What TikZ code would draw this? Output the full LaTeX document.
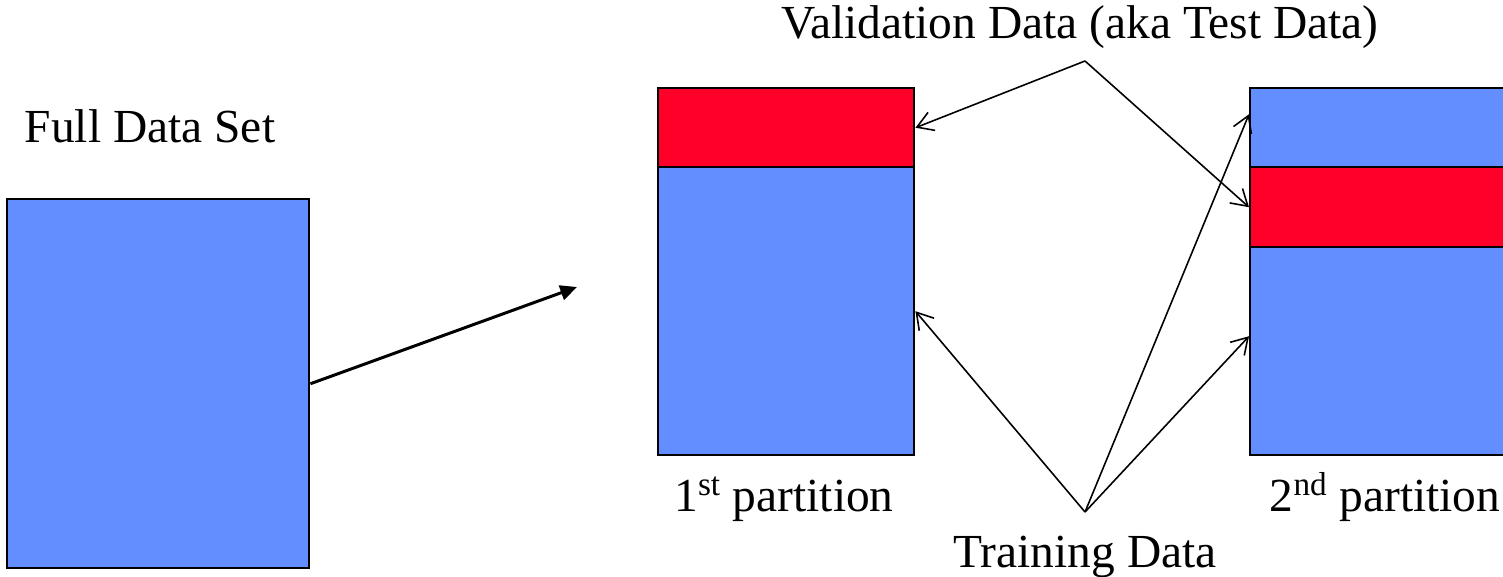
\documentclass[tikz,border=0pt]{standalone}
\usepackage{fontspec}
\setmainfont{Liberation Serif}
\usetikzlibrary{arrows.meta}
\definecolor{setblue}{RGB}{98,142,255}
\definecolor{setred}{RGB}{255,0,41}

\begin{document}
\begin{tikzpicture}[x=0.02cm, y=-0.02cm,
    block/.style={draw, line width=1.4pt, inner sep=0pt, anchor=north west},
    caption/.style={font=\fontsize{27}{32}\selectfont, inner sep=0pt, anchor=base},
    pointer/.style={line width=0.9pt, -{Straight Barb[length=9pt, width=11pt]}}]
    \def\u{0.02cm} % one pixel of the reference
    \def\boxW{256} % width of a partition
    \useasboundingbox (0,0) rectangle (1503,577);

    % full data set
    \node[block, fill=setblue, minimum width=302*\u, minimum height=369*\u] (full) at (6,198) {};
    \node[caption] (fulltxt) at (150,143) {Full Data Set};
    \coordinate (split) at (577,287);
    \draw[line width=1.7pt, -{Triangle[length=9.5pt, width=8.5pt]}] (full.east) -- (split);

    % 1st partition
    \node[block, fill=setred, minimum width=\boxW*\u, minimum height=79*\u] (red1) at (657,87) {};
    \node[block, fill=setblue, minimum width=\boxW*\u, minimum height=288*\u] (blue1) at (657,166) {};
    \node[caption] (part1) at (784,511) {1\textsuperscript{st} partition};

    % 2nd partition
    \foreach \name/\col/\top/\h in {top2/setblue/87/79, red2/setred/166/80, low2/setblue/246/208} {
        \node[block, fill=\col, minimum width=\boxW*\u, minimum height=\h*\u] (\name) at (1249,\top) {};
    }
    \node[caption] (part2) at (1385,511) {2\textsuperscript{nd} partition};

    % validation pointers
    \coordinate (val) at (1085,61);
    \node[caption] (valtxt) at (1080,39) {Validation Data (aka Test Data)};
    \draw[pointer] (val) -- (red1.east);
    \draw[pointer] (val) -- (red2.west);

    % training pointers
    \coordinate (train) at (1085,512);
    \node[caption] (traintxt) at (1085,567) {Training Data};
    \draw[pointer] (train) -- (blue1.east);
    \draw[pointer] (train) -- ([yshift=0.27cm]top2.west);
    \draw[pointer] (train) -- ([yshift=0.3cm]low2.west);
\end{tikzpicture}
\end{document}
